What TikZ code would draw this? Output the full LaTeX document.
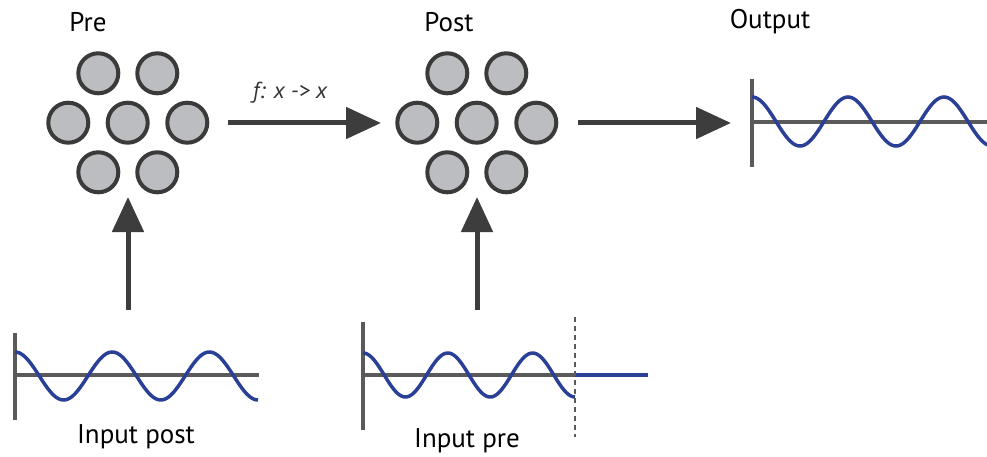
\documentclass[tikz,border=0pt]{standalone}
\usepackage{fontspec}
\setmainfont{PT Sans}
\usetikzlibrary{arrows.meta}
\definecolor{cfill}{HTML}{BCBDC0}
\definecolor{cline}{HTML}{3A3A3A}
\definecolor{wblue}{HTML}{2A3F96}
\definecolor{axisg}{HTML}{5A5A5A}
\definecolor{arrg}{HTML}{3D3D3D}
\tikzset{
  neuron/.style={circle, draw=cline, fill=cfill, line width=4pt, minimum size=40pt, inner sep=0pt},
  bigarrow/.style={draw=arrg, line width=5pt, -{Triangle[length=35pt,width=31pt]}},
  axisline/.style={draw=axisg, line width=3.5pt},
  wave/.style={draw=wblue, line width=3.5pt},
  lbl/.style={font=\fontsize{27}{31}\selectfont, text=black, inner sep=0pt},
  flbl/.style={font=\fontsize{23}{27}\selectfont\itshape, text=black!80, inner sep=0pt}
}
\begin{document}
\begin{tikzpicture}[x=1pt,y=-1pt]
\useasboundingbox (0,0) rectangle (987,457);
% Pre cluster
\foreach \n/\cx/\cy in {1/98.3/73.3, 2/157.3/73.3, 3/68.3/122.7, 4/127.7/122.7, 5/187.3/122.7, 6/98.3/172.3, 7/157.3/172.3}
  \node[neuron] (p\n) at (\cx,\cy) {};
% Post cluster
\foreach \n/\cx/\cy in {1/447.3/73.3, 2/506.3/73.3, 3/417.3/122.7, 4/476.7/122.7, 5/536.3/122.7, 6/447.3/172.3, 7/506.3/172.3}
  \node[neuron] (q\n) at (\cx,\cy) {};
% titles
\node[lbl] (tpre) at (88,22) {Pre};
\node[lbl] (tpost) at (449,22) {Post};
\node[lbl] (tout) at (770,22) {Output};
% arrow coordinates
\coordinate (a1s) at (228,123);
\coordinate (a1e) at (381,123);
\coordinate (a2s) at (578,123);
\coordinate (a2e) at (731,123);
\coordinate (v1s) at (128,310);
\coordinate (v1e) at (128,197);
\coordinate (v2s) at (477,310);
\coordinate (v2e) at (477,197);
\draw[bigarrow] (a1s) -- (a1e);
\draw[bigarrow] (a2s) -- (a2e);
\draw[bigarrow] (v1s) -- (v1e);
\draw[bigarrow] (v2s) -- (v2e);
\node[flbl] (fl) at (290,93) {f: x -> x};
% Input post plot
\draw[axisline] (15,333) -- (15,420);
\draw[axisline] (15,375) -- (259,375);
\draw[wave] plot[domain=15:258, samples=120] (\x, {376 - 24*cos((\x-15)/97.2*360)});
\node[lbl] (tip) at (136,437) {Input post};
% Input pre plot
\draw[axisline] (363,322) -- (363,430);
\draw[axisline] (363,375) -- (575,375);
\draw[wave] plot[domain=363:575, samples=120] (\x, {375 - 22*cos((\x-363)/84.8*360)});
\draw[wave] (575,375) -- (648,375);
\draw[draw=axisg, line width=1.5pt, dash pattern=on 5pt off 4pt] (575,317) -- (575,437);
\node[lbl] (tipre) at (467,441) {Input pre};
% Output plot
\begin{scope}
\clip (740,0) rectangle (987,457);
\draw[axisline] (752,79) -- (752,167);
\draw[axisline] (752,122) -- (990,122);
\draw[wave] plot[domain=752:990, samples=120] (\x, {121.5 - 24.5*cos((\x-752)/96*360)});
\end{scope}
\end{tikzpicture}
\end{document}
